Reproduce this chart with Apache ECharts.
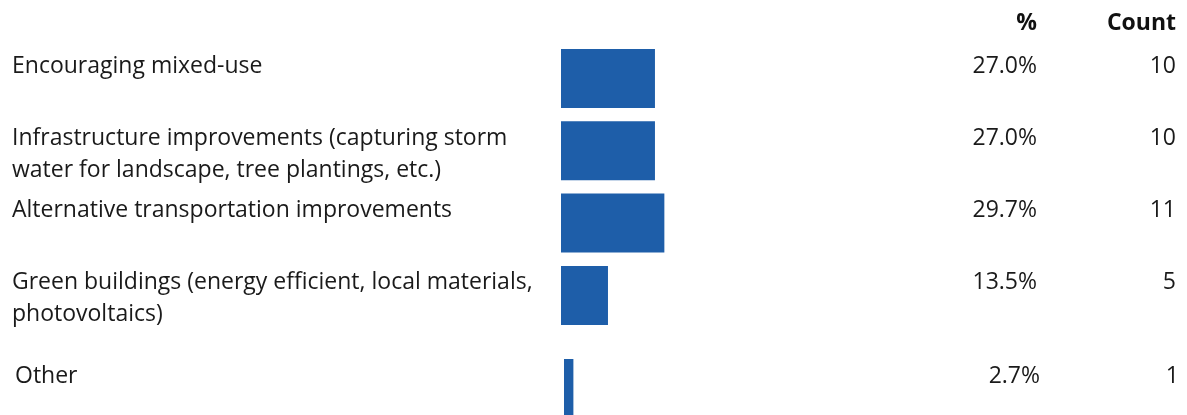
<!DOCTYPE html>
<html>
<head>
<meta charset="utf-8">
<script src="https://cdn.jsdelivr.net/npm/echarts@6/dist/echarts.min.js"></script>
<style>
    html, body { margin: 0; padding: 0; background: #fff; }
    #my_chart { width: 1187px; height: 415px; }
</style>
</head>
<body>
<div id="my_chart"></div>
<script>
var categoryArr = [
    'Encouraging mixed-use',
    'Infrastructure improvements (capturing storm\nwater for landscape, tree plantings, etc.)',
    'Alternative transportation improvements',
    'Green buildings (energy efficient, local materials,\nphotovoltaics)',
    'Other'
];
var percentArr = [27.0, 27.0, 29.7, 13.5, 2.7];
var countArr = [10, 10, 11, 5, 1];
var headerArr = ['%', 'Count'];

var barColor = '#1e5ea9';
var textFont = '"Open Sans", sans-serif';

function labelStyle(pos, align, formatter) {
    return {
        show: true,
        position: pos,
        align: align,
        verticalAlign: 'top',
        fontFamily: textFont,
        fontSize: 23,
        lineHeight: 32,
        color: '#1a1a1a',
        formatter: formatter
    };
}

// one group of three overlaid bar series per grid: name / % / count labels
function buildSeries(gridIndex, from, to) {
    var pct = percentArr.slice(from, to);
    var base = {
        type: 'bar',
        xAxisIndex: gridIndex,
        yAxisIndex: gridIndex,
        barWidth: 59,
        barGap: '-100%',
        clip: false,
        silent: true,
        animation: false,
        data: pct
    };
    return [
        Object.assign({}, base, {
            itemStyle: { color: barColor },
            label: labelStyle([-549, 1], 'left', function (p) { return categoryArr[from + p.dataIndex]; })
        }),
        Object.assign({}, base, {
            itemStyle: { color: 'transparent' },
            label: labelStyle([476, 1], 'right', function (p) { return p.value.toFixed(1) + '%'; })
        }),
        Object.assign({}, base, {
            itemStyle: { color: 'transparent' },
            label: labelStyle([615, 1], 'right', function (p) { return String(countArr[from + p.dataIndex]); })
        })
    ];
}

function axisPair(gridIndex, from, to) {
    return {
        x: {
            type: 'value', gridIndex: gridIndex, min: 0, max: 100, show: false
        },
        y: {
            type: 'category', gridIndex: gridIndex, inverse: true, show: false,
            data: categoryArr.slice(from, to)
        }
    };
}

var a1 = axisPair(0, 0, 4), a2 = axisPair(1, 4, 5);

var headerStyle = { fontFamily: textFont, fontSize: 23, fontWeight: 'bold', color: '#111' };

var myChart = echarts.init(document.getElementById('my_chart'));
var option = {
    backgroundColor: '#fff',
    grid: [
        { left: 561, width: 348, top: 42.3, height: 289.3 },
        { left: 564, width: 348, top: 362, height: 53 }
    ],
    title: [
        { text: headerArr[0], left: 1037, top: 12, padding: 0, textAlign: 'right', textStyle: headerStyle },
        { text: headerArr[1], left: 1176, top: 12, padding: 0, textAlign: 'right', textStyle: headerStyle }
    ],
    xAxis: [a1.x, a2.x],
    yAxis: [a1.y, a2.y],
    series: buildSeries(0, 0, 4).concat(buildSeries(1, 4, 5))
};
myChart.setOption(option);
</script>
</body>
</html>
